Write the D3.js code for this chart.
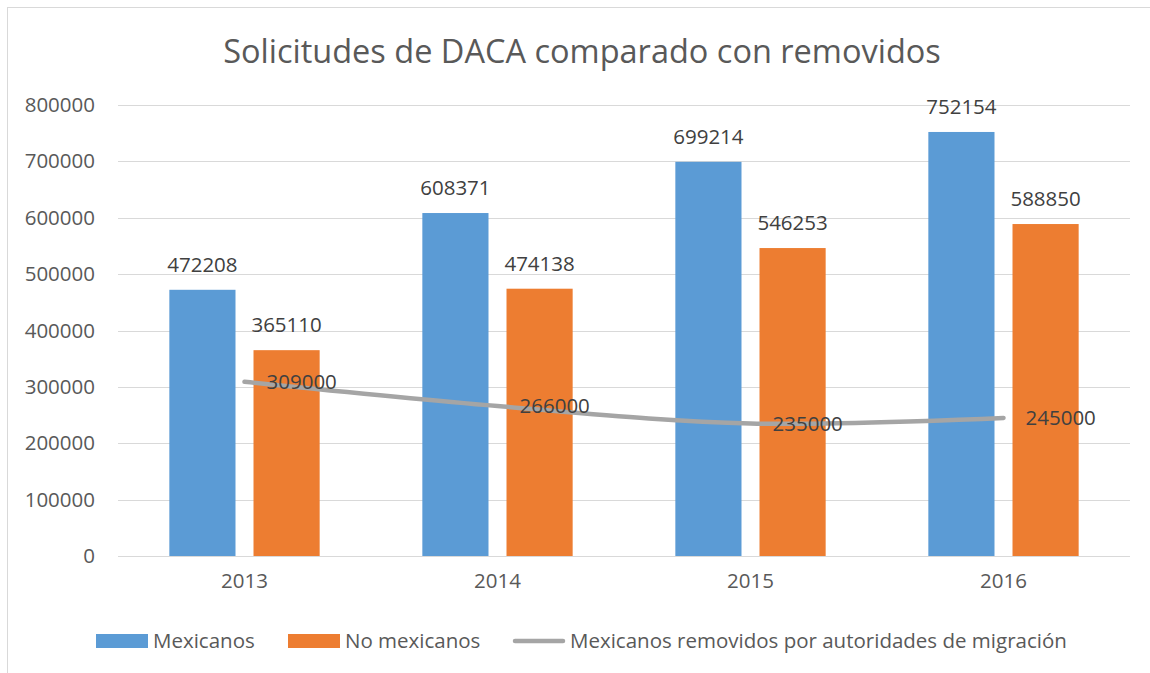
<!DOCTYPE html>
<html lang="es">
<head>
<meta charset="UTF-8">
<title>Solicitudes de DACA comparado con removidos</title>
<script src="https://d3js.org/d3.v7.min.js"></script>
<style>
  body { margin: 0; background: #fff; }
  text { font-family: "Open Sans", "DejaVu Sans", sans-serif; }
</style>
</head>
<body>
<div id="chart"></div>
<script>
// chart data
const years = ["2013", "2014", "2015", "2016"];
const mexicanos = [472208, 608371, 699214, 752154];
const noMexicanos = [365110, 474138, 546253, 588850];
const removidos = [309000, 266000, 235000, 245000];
const yTicks = [0, 100000, 200000, 300000, 400000, 500000, 600000, 700000, 800000];
const seriesNames = ["Mexicanos", "No mexicanos", "Mexicanos removidos por autoridades de migración"];

const width = 1150, height = 673;
const margin = { top: 105, left: 118 };
const plotRight = 1130;
const fs = "20.5px";

const svg = d3.select("#chart").append("svg")
    .attr("width", width)
    .attr("height", height);

// outer chart border
svg.append("rect")
    .attr("x", 7.5).attr("y", 7.5)
    .attr("width", width + 20).attr("height", height + 20)
    .attr("fill", "#fff")
    .attr("stroke", "#d9d9d9");

const x = d3.scaleBand()
    .domain(years)
    .range([margin.left, plotRight]);

const inner = d3.scaleBand()
    .domain([0, 1])
    .range([0, x.bandwidth()])
    .paddingInner(0.214)
    .paddingOuter(0.61);

const y = d3.scaleLinear()
    .domain([0, 800000])
    .range([556, margin.top]);

// gridlines
svg.append("g")
    .selectAll("line")
    .data(yTicks)
    .join("line")
    .attr("x1", margin.left).attr("x2", plotRight)
    .attr("y1", d => Math.round(y(d)) + 0.5)
    .attr("y2", d => Math.round(y(d)) + 0.5)
    .attr("stroke", "#d9d9d9")
    .attr("stroke-width", 1);

// y axis labels
const yAxis = svg.append("g")
    .attr("transform", `translate(${margin.left},0)`)
    .call(d3.axisLeft(y).tickValues(yTicks).tickFormat(d3.format("d")).tickSize(0).tickPadding(23));
yAxis.select(".domain").remove();
yAxis.selectAll("text")
    .attr("fill", "#595959")
    .style("font-size", fs)
    .style("font-family", "'Open Sans', sans-serif");

// x axis labels
const xAxis = svg.append("g")
    .attr("transform", `translate(0,${y(0)})`)
    .call(d3.axisBottom(x).tickSize(0).tickPadding(17));
xAxis.select(".domain").remove();
xAxis.selectAll("text")
    .attr("fill", "#595959")
    .style("font-size", fs)
    .style("font-family", "'Open Sans', sans-serif");

// bars
const bars = [
    { values: mexicanos, color: "#5b9bd5", idx: 0 },
    { values: noMexicanos, color: "#ed7d31", idx: 1 }
];

bars.forEach(s => {
    const g = svg.append("g");
    g.selectAll("rect")
        .data(s.values)
        .join("rect")
        .attr("x", (d, i) => x(years[i]) + inner(s.idx))
        .attr("y", d => y(d))
        .attr("width", inner.bandwidth())
        .attr("height", d => y(0) - y(d))
        .attr("fill", s.color);

    g.selectAll("text")
        .data(s.values)
        .join("text")
        .attr("x", (d, i) => x(years[i]) + inner(s.idx) + inner.bandwidth() / 2)
        .attr("y", d => y(d) - 18)
        .attr("text-anchor", "middle")
        .attr("fill", "#404040")
        .style("font-size", fs)
        .text(d => d);
});

// smoothed line
const line = d3.line()
    .x((d, i) => x(years[i]) + x.bandwidth() / 2)
    .y(d => y(d))
    .curve(d3.curveCatmullRom.alpha(0.5));

svg.append("path")
    .datum(removidos)
    .attr("fill", "none")
    .attr("stroke", "#a5a5a5")
    .attr("stroke-width", 4.5)
    .attr("stroke-linecap", "round")
    .attr("d", line);

svg.append("g")
    .selectAll("text")
    .data(removidos)
    .join("text")
    .attr("x", (d, i) => x(years[i]) + x.bandwidth() / 2 + 22)
    .attr("y", d => y(d))
    .attr("dy", "0.35em")
    .attr("fill", "#404040")
    .style("font-size", fs)
    .text(d => d);

// title
svg.append("text")
    .attr("x", 582)
    .attr("y", 63)
    .attr("text-anchor", "middle")
    .attr("fill", "#595959")
    .style("font-size", "32.5px")
    .text("Solicitudes de DACA comparado con removidos");

// legend
const legend = svg.append("g").attr("transform", "translate(0,641)");
const legendItems = [
    { name: seriesNames[0], color: "#5b9bd5", type: "rect", x: 96 },
    { name: seriesNames[1], color: "#ed7d31", type: "rect", x: 288 },
    { name: seriesNames[2], color: "#a5a5a5", type: "line", x: 513 }
];
legendItems.forEach(it => {
    if (it.type === "rect") {
        legend.append("rect")
            .attr("x", it.x).attr("y", -7)
            .attr("width", 52).attr("height", 14)
            .attr("fill", it.color);
    } else {
        legend.append("line")
            .attr("x1", it.x + 2).attr("x2", it.x + 50)
            .attr("y1", 0).attr("y2", 0)
            .attr("stroke", it.color)
            .attr("stroke-width", 4.5)
            .attr("stroke-linecap", "round");
    }
    legend.append("text")
        .attr("x", it.x + 57)
        .attr("y", 0)
        .attr("dy", "0.35em")
        .attr("fill", "#595959")
        .style("font-size", fs)
        .text(it.name);
});
</script>
</body>
</html>
